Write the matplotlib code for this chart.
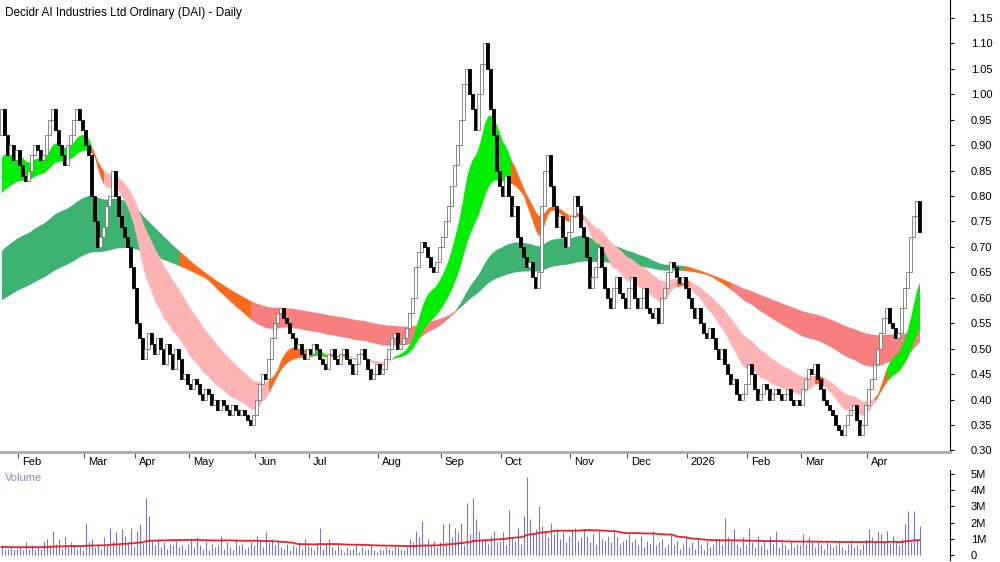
import numpy as np
import pandas as pd
import matplotlib
matplotlib.use("Agg")
import matplotlib.pyplot as plt

plt.rcParams["font.family"] = ["Liberation Sans", "DejaVu Sans"]

# closes per month (bar counts follow the chart spacing)
month_labels = ["", "Feb", "Mar", "Apr", "May", "Jun", "Jul", "Aug", "Sep", "Oct",
                "Nov", "Dec", "2026", "Feb", "Mar", "Apr"]
closes_by_month = [
    [0.97, 0.92, 0.88, 0.90, 0.87, 0.89],
    [0.86, 0.84, 0.83, 0.85, 0.88, 0.90, 0.89, 0.87, 0.88, 0.92, 0.95, 0.97, 0.93, 0.90,
     0.88, 0.86, 0.90, 0.92, 0.95, 0.97, 0.95, 0.93],
    [0.90, 0.88, 0.80, 0.75, 0.70, 0.72, 0.74, 0.78, 0.80, 0.85, 0.80, 0.76, 0.74, 0.72,
     0.70, 0.66, 0.62],
    [0.55, 0.52, 0.48, 0.50, 0.53, 0.51, 0.49, 0.52, 0.50, 0.47, 0.51, 0.49, 0.46, 0.50,
     0.48, 0.44, 0.45, 0.43],
    [0.42, 0.44, 0.43, 0.41, 0.40, 0.42, 0.41, 0.39, 0.40, 0.38, 0.40, 0.39, 0.38, 0.37,
     0.39, 0.38, 0.37, 0.38, 0.37, 0.36, 0.35, 0.37],
    [0.40, 0.43, 0.45, 0.44, 0.48, 0.52, 0.55, 0.57, 0.58, 0.56, 0.55, 0.53, 0.52, 0.50,
     0.51, 0.49, 0.48, 0.50],
    [0.49, 0.51, 0.50, 0.48, 0.47, 0.46, 0.49, 0.50, 0.48, 0.47, 0.49, 0.50, 0.48, 0.47,
     0.45, 0.47, 0.49, 0.50, 0.48, 0.46, 0.44, 0.45, 0.47],
    [0.45, 0.46, 0.48, 0.50, 0.52, 0.53, 0.50, 0.51, 0.52, 0.54, 0.57, 0.60, 0.66, 0.69,
     0.71, 0.70, 0.68, 0.66, 0.65, 0.67, 0.70],
    [0.72, 0.75, 0.78, 0.82, 0.86, 0.90, 0.95, 1.02, 1.05, 1.00, 0.97, 0.93, 1.00, 1.06,
     1.10, 1.05, 0.97, 0.92, 0.85, 0.82],
    [0.80, 0.84, 0.80, 0.76, 0.78, 0.72, 0.70, 0.68, 0.66, 0.67, 0.64, 0.62, 0.65, 0.78,
     0.85, 0.88, 0.82, 0.78, 0.74, 0.76, 0.72, 0.70, 0.73],
    [0.76, 0.80, 0.78, 0.74, 0.72, 0.68, 0.62, 0.64, 0.66, 0.70, 0.66, 0.62, 0.60, 0.58,
     0.62, 0.64, 0.61, 0.60, 0.58],
    [0.62, 0.64, 0.60, 0.58, 0.60, 0.62, 0.58, 0.57, 0.56, 0.58, 0.55, 0.60, 0.62, 0.65,
     0.67, 0.66, 0.64, 0.63, 0.64, 0.62],
    [0.60, 0.58, 0.56, 0.58, 0.55, 0.53, 0.52, 0.54, 0.52, 0.50, 0.48, 0.50, 0.47, 0.45,
     0.43, 0.44, 0.41, 0.40, 0.41, 0.43],
    [0.47, 0.45, 0.42, 0.40, 0.41, 0.43, 0.42, 0.40, 0.41, 0.42, 0.41, 0.40, 0.41, 0.42,
     0.40, 0.39, 0.40, 0.39],
    [0.42, 0.44, 0.46, 0.45, 0.47, 0.44, 0.42, 0.40, 0.39, 0.38, 0.37, 0.35, 0.34, 0.33,
     0.35, 0.37, 0.38, 0.39, 0.36, 0.33, 0.35, 0.39],
    [0.42, 0.44, 0.47, 0.50, 0.53, 0.56, 0.58, 0.55, 0.54, 0.52, 0.53, 0.58, 0.62, 0.65,
     0.72, 0.76, 0.79, 0.73],
]
# volume in millions, same layout
volume_by_month = [
    [.6, .3, .4, .5, .3, .4],
    [.5, .3, .8, .4, .6, .3, .5, .4, .9, 1.0, .6, 1.5, .7, 1.0, .4, 1.2, .5, .8, .6, .4, .5, .3],
    [1.9, .8, 1.0, .5, .7, .4, 1.1, .6, 1.7, .9, 1.4, .6, 1.6, 1.2, .8, 1.7, .5],
    [1.5, 1.9, .7, 3.5, 2.4, .9, .6, 1.0, .5, .8, .4, .7, .6, .9, .5, .6, .4, .7],
    [1.0, .5, 1.1, .6, .4, .9, .3, .7, .5, .6, 1.2, .4, .8, .5, .3, 1.0, .6, .7, .4, .5, .8, .6],
    [1.2, .9, .5, 1.4, .8, 1.0, .6, .9, .5, .4, .7, .3, .6, .5, .8, .4, 1.0, .6],
    [.5, .3, .6, 1.7, .4, .7, 1.0, .5, .3, .6, .4, .2, .5, .3, .4, .6, .2, .5, .3, .4, .6, .3, .2],
    [.4, .3, .5, .4, .3, .6, .5, .4, .3, .5, 1.0, .8, 1.5, 1.1, 2.1, .7, 1.0, .6, .9, .5, .8],
    [1.9, .8, 2.0, 1.1, 1.7, 1.4, 2.0, .6, 3.2, 1.3, 3.5, 2.2, 1.5, .9, 1.0, .7, 1.2, 1.5, .8, .9],
    [1.4, .6, 2.8, 1.1, .9, 1.7, .7, 2.4, 4.8, 2.2, 1.4, 1.6, 3.0, 1.8, 1.5, 1.1, 2.0, 1.3, 1.6,
     1.0, 1.4, .8, 1.2],
    [1.5, 1.7, .9, 1.1, 1.6, 1.2, .8, 1.3, .7, 1.5, 1.0, .9, 1.2, .8, 1.4, 1.1, .7, .9, 1.0],
    [1.3, .8, 1.0, .6, 1.2, .5, .9, .7, 1.5, .6, .8, 1.0, .5, .7, 1.3, .6, .9, .4, .7, 1.2],
    [.5, .8, .4, 1.0, .6, .3, .9, .5, .7, 1.0, 1.0, .6, 2.3, 1.1, .9, 1.6, .7, .5, 1.1, .6],
    [1.7, .8, .5, 1.2, .6, .9, .4, 1.2, .7, 1.5, .5, .8, .6, .4, .9, .5, .7, .6],
    [1.3, .7, 1.1, .9, .5, .8, .6, .4, .9, .7, .5, .6, .8, .5, .3, .7, .9, .5, .6, .4, .7, 1.0],
    [1.6, 1.1, .8, 1.4, 1.3, .9, 1.5, .7, 1.2, .9, .6, 1.0, 1.9, 2.7, .8, 2.7, 1.0, 1.8],
]
# earlier closes (off-screen) used only to warm up the averages
prior_closes = [
    0.40, 0.41, 0.40, 0.42, 0.41, 0.40, 0.39, 0.40, 0.42, 0.43, 0.42, 0.41, 0.43, 0.44, 0.43,
    0.42, 0.44, 0.45, 0.44, 0.43, 0.45, 0.46, 0.45, 0.44, 0.46, 0.47, 0.46, 0.45, 0.47, 0.48,
    0.47, 0.46, 0.48, 0.49, 0.48, 0.47, 0.49, 0.50, 0.49, 0.48, 0.50, 0.51, 0.50, 0.49, 0.51,
    0.52, 0.51, 0.50, 0.52, 0.53, 0.52, 0.51, 0.53, 0.54, 0.53, 0.52, 0.54, 0.55, 0.54, 0.53,
    0.55, 0.56, 0.55, 0.54, 0.56, 0.57, 0.56, 0.55, 0.57, 0.58, 0.57, 0.56, 0.58, 0.60, 0.59,
    0.58, 0.60, 0.62, 0.61, 0.60, 0.62, 0.64, 0.63, 0.62, 0.65, 0.67, 0.66, 0.65, 0.68, 0.70,
    0.69, 0.68, 0.71, 0.73, 0.72, 0.71, 0.74, 0.76, 0.75, 0.74, 0.77, 0.79, 0.78, 0.77, 0.80,
    0.82, 0.81, 0.80, 0.83, 0.85, 0.84, 0.83, 0.86, 0.88, 0.87, 0.86, 0.89, 0.91, 0.90, 0.92]
prior_volume = [0.5] * len(prior_closes)

fast_periods = [14, 17, 20, 24, 28, 33]
slow_periods = [80, 95, 110, 125, 140, 160]

closes = np.array([c for m in closes_by_month for c in m])
volume = np.array([v for m in volume_by_month for v in m])
month_starts = np.cumsum([0] + [len(m) for m in closes_by_month])[:-1]
n = len(closes)
npre = len(prior_closes)

all_close = pd.Series(list(prior_closes) + list(closes))
x = np.arange(n)


def ribbon(ax, periods, c_up, c_mix, c_down):
    emas = np.array([all_close.ewm(span=p, adjust=False).mean().values[npre:] for p in periods])
    lo, hi = emas.min(axis=0), emas.max(axis=0)
    d = np.diff(emas, axis=0)
    state = np.where((d < 0).all(axis=0), 0, np.where((d > 0).all(axis=0), 2, 1))
    cols = {0: c_up, 1: c_mix, 2: c_down}
    start = 0
    for i in range(1, n + 1):
        if i == n or state[i] != state[start]:
            sl = slice(start, min(i + 1, n))
            ax.fill_between(x[sl], lo[sl], hi[sl], color=cols[state[start]], lw=0, zorder=1)
            start = i


fig = plt.figure(figsize=(10, 5.62), dpi=100)
ax = fig.add_axes([0, 110 / 562, 0.95, 452 / 562])
axv = fig.add_axes([0, 2 / 562, 0.95, 90 / 562])

ribbon(ax, slow_periods, "#3cb371", "#ff6a1a", "#f77f7f")
ribbon(ax, fast_periods, "#00ee00", "#ff6a1a", "#ffb3b3")

opens = np.concatenate([[prior_closes[-1]], closes[:-1]])
for i in range(n):
    o, c = opens[i], closes[i]
    up = c >= o
    ax.bar(x[i], max(abs(c - o), 0.003), bottom=min(o, c), width=0.7,
           color="white" if up else "black", edgecolor="#777777" if up else "black",
           lw=0.6, zorder=3)

xmax = 950 / 3 - 0.5
ax.set_xlim(-0.5, xmax)
ax.set_ylim(0.297, 1.185)
ax.yaxis.tick_right()
ax.set_yticks(np.round(np.arange(0.30, 1.151, 0.05), 2))
ax.set_yticklabels([f"{v:.2f}" for v in np.arange(0.30, 1.151, 0.05)], fontsize=8)
ax.tick_params(axis="y", length=3, pad=12)
ax.set_xticks(month_starts[1:] - 0.5)
ax.set_xticklabels([])
ax.tick_params(axis="x", length=4, color="#555555")
for s in ["top", "left"]:
    ax.spines[s].set_visible(False)
ax.spines["bottom"].set_color("#aaaaaa")
ax.spines["bottom"].set_linewidth(2)
for pos, lab in zip(month_starts[1:], month_labels[1:]):
    ax.text(pos + 0.8, -0.012, lab, transform=ax.get_xaxis_transform(), fontsize=8,
            ha="left", va="top")
ax.text(0.005, 0.985, "Decidr AI Industries Ltd Ordinary (DAI) - Daily",
        transform=ax.transAxes, fontsize=8.5, va="top")

vol_ma = pd.Series(prior_volume + list(volume)).rolling(50, min_periods=1).mean().values[npre:]
axv.vlines(x, 0, volume, color="#7777cc", lw=0.8)
axv.plot(x, vol_ma, color="#ee2222", lw=1.3)
axv.set_xlim(-0.5, xmax)
axv.set_ylim(-0.3, 5.25)
axv.yaxis.tick_right()
axv.set_yticks([0, 1, 2, 3, 4, 5])
axv.set_yticklabels(["0", "1M", "2M", "3M", "4M", "5M"], fontsize=8)
axv.tick_params(axis="y", length=3, pad=12)
axv.set_xticks([])
for s in ["top", "left", "bottom"]:
    axv.spines[s].set_visible(False)
axv.text(0.005, 0.97, "Volume", transform=axv.transAxes, fontsize=8, color="#8888cc", va="top")

fig.savefig("out.png", dpi=100)
